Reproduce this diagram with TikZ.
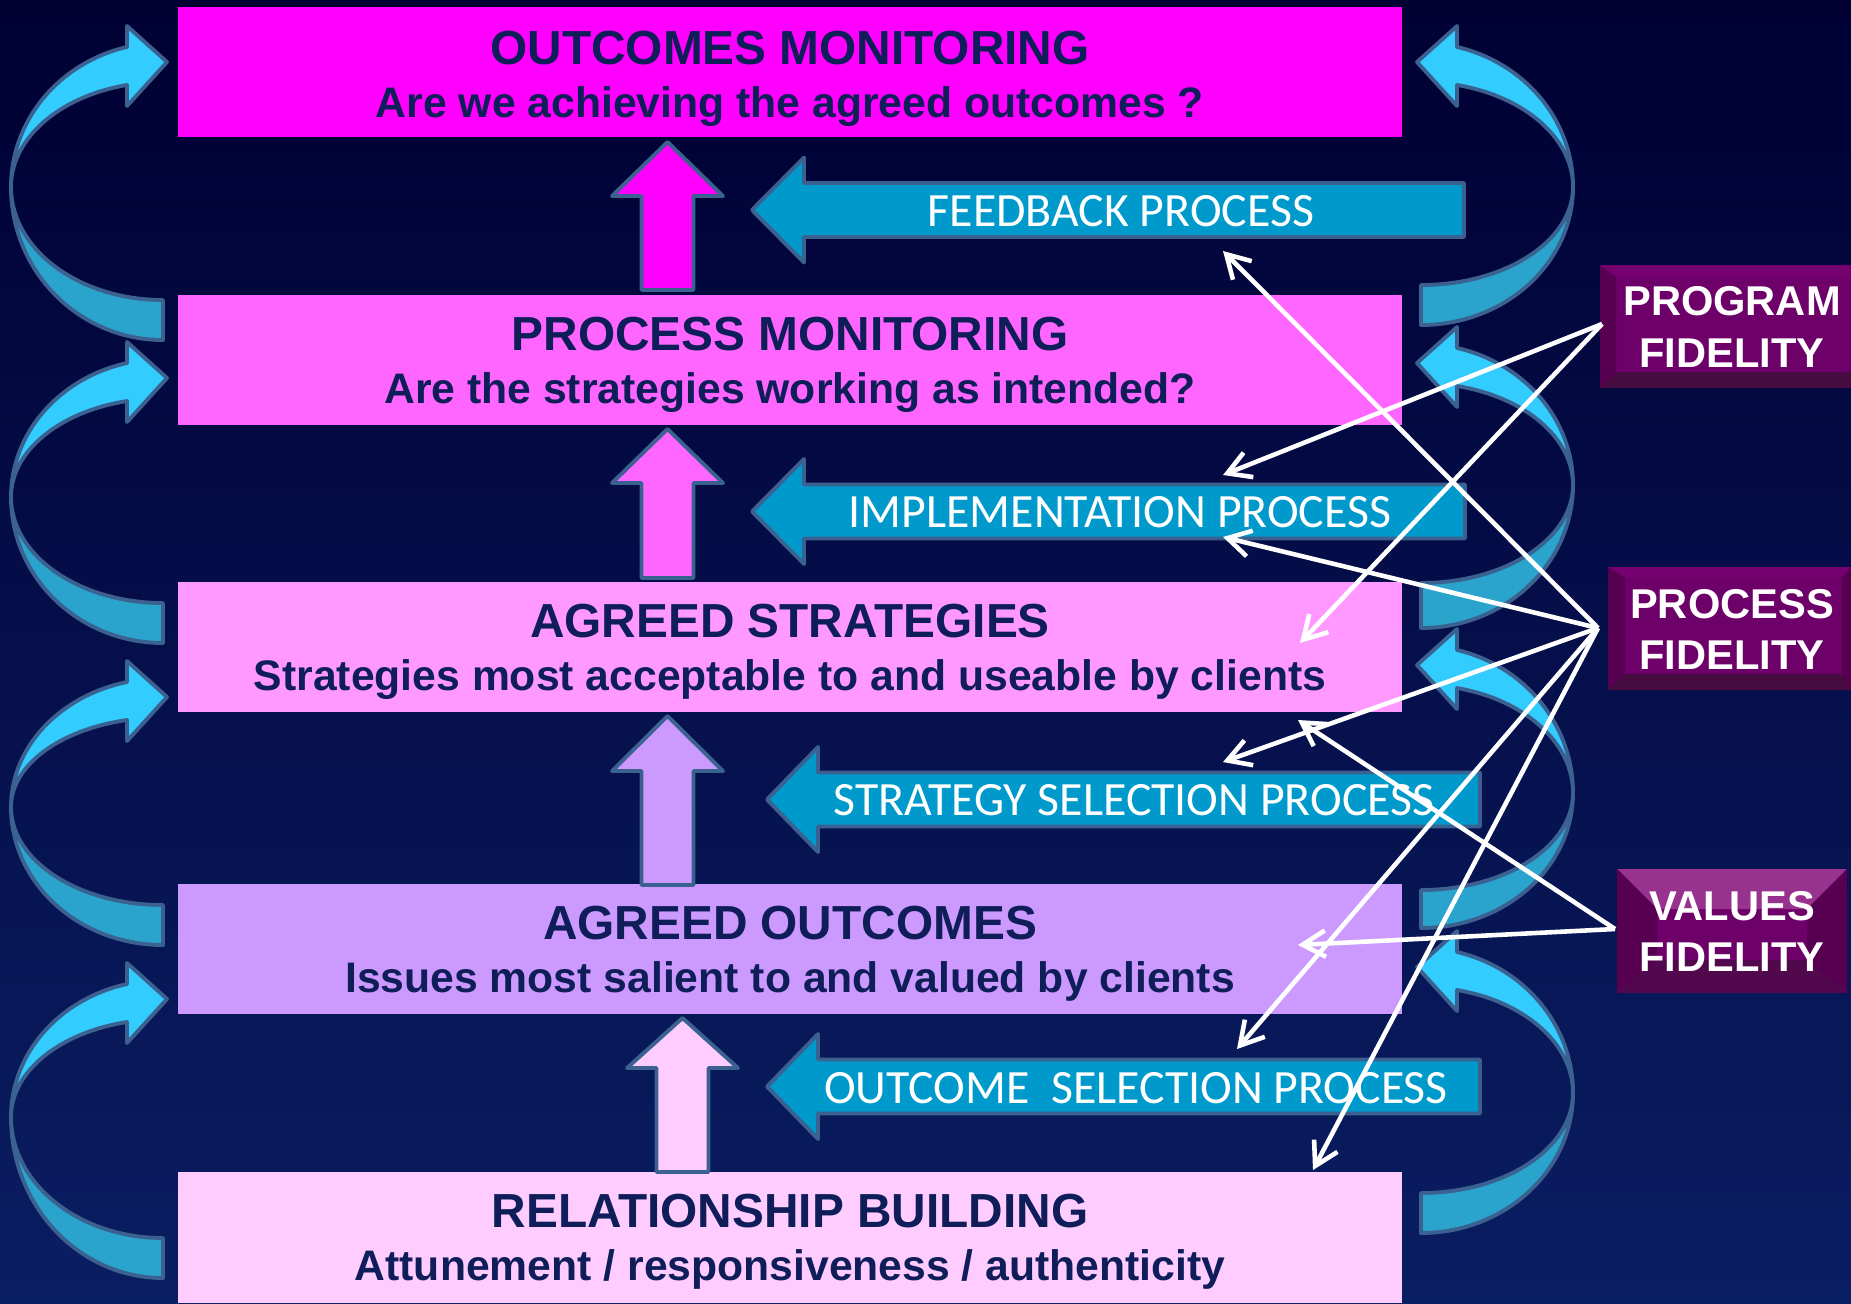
\documentclass[tikz,border=0pt]{standalone}
\usepackage{fontspec}
\setmainfont{Liberation Sans}
\newfontfamily\procfont{Carlito}
\usetikzlibrary{arrows.meta}

\definecolor{bgtop}{HTML}{000033}
\definecolor{bgbot}{HTML}{0A1E62}
\definecolor{boxA}{HTML}{FF00FF}
\definecolor{boxB}{HTML}{FF66FF}
\definecolor{boxC}{HTML}{FF99FF}
\definecolor{boxD}{HTML}{CC99FF}
\definecolor{boxE}{HTML}{FFCCFF}
\definecolor{ink}{HTML}{0F1E58}
\definecolor{edge}{HTML}{3B6190}
\definecolor{cyanlight}{HTML}{33CCFF}
\definecolor{cyandark}{HTML}{2AA4CC}
\definecolor{procblue}{HTML}{0099CC}
\definecolor{fidface}{HTML}{6E006A}
\definecolor{fidtop}{HTML}{750070}
\definecolor{fidleft}{HTML}{570051}
\definecolor{fidbottom}{HTML}{460B40}
\definecolor{valtop}{HTML}{98328F}

\tikzset{
  outlined/.style={draw=edge, line width=2.2pt, line join=round},
  title/.style={font=\bfseries\fontsize{27.2}{30}\selectfont, text=ink, anchor=base, inner sep=0pt},
  subtitle/.style={font=\bfseries\fontsize{24.3}{28}\selectfont, text=ink, anchor=base, inner sep=0pt},
  proclabel/.style={font=\procfont\fontsize{27.2}{30}\selectfont, text=white, anchor=base, inner sep=0pt},
  fidlabel/.style={font=\bfseries\fontsize{23.7}{28}\selectfont, text=white, anchor=base, inner sep=0pt},
  link/.style={draw=white, line width=2.6pt, -{Straight Barb[length=13pt,width=15pt]}},
}

% C-shaped ribbon arrow: #1 head tip y, #2 turning point y, #3 tail top y, #4 tail bottom y
\newcommand\loopshape[4]{%
  \pgfmathsetmacro\ryo{(#2-#1+15)/0.9716}%
  \pgfmathsetmacro\ryi{(#2-#1-23)/0.9716}%
  \pgfmathsetmacro\ryb{#4-#2}%
  \pgfmathsetmacro\rya{#3-#2}%
  \path[outlined, fill=cyandark] (11,#2)
    arc[start angle=180, end angle=90, x radius=152, y radius=\ryb]
    -- (163,#3)
    arc[start angle=90, end angle=180, x radius=152, y radius=\rya] -- cycle;
  \path[outlined, fill=cyanlight] (127,#1-15)
    arc[start angle=256.3, end angle=180, x radius=152, y radius=\ryo]
    arc[start angle=180, end angle=256.3, x radius=152, y radius=\ryi]
    -- (127,#1+44) -- (167,#1) -- (127,#1-36) -- cycle;
}

% upward block arrow: #1 fill, #2 centre x, #3 tip y, #4 head base y, #5 bottom y
\newcommand\upblock[5]{%
  \path[outlined, fill=#1] (#2,#3) -- (#2+55.5,#4) -- (#2+26,#4) -- (#2+26,#5)
    -- (#2-26,#5) -- (#2-26,#4) -- (#2-55.5,#4) -- cycle;
}

% leftward block arrow: #1 tip x, #2 centre y, #3 head base x, #4 right end x
\newcommand\leftblock[4]{%
  \path[outlined, fill=procblue] (#1,#2) -- (#3,#2-52.5) -- (#3,#2-27) -- (#4,#2-27)
    -- (#4,#2+27) -- (#3,#2+27) -- (#3,#2+52.5) -- cycle;
}

\begin{document}
\begin{tikzpicture}[x=0.02cm, y=-0.02cm]
\useasboundingbox (0,0) rectangle (1851,1303);
\shade[top color=bgtop, bottom color=bgbot] (0,0) rectangle (1851,1303);

% level boxes
\fill[boxA] (178,7) rectangle (1402,137);
\fill[boxB] (178,295) rectangle (1402,425);
\fill[boxC] (178,582) rectangle (1402,712);
\fill[boxD] (178,884) rectangle (1402,1014);
\fill[boxE] (178,1172) rectangle (1402,1303);

% upward arrows between levels
\upblock{boxA}{667.5}{142}{196}{290}
\upblock{boxB}{667.5}{429}{483}{578}
\upblock{boxD}{667.5}{716}{771}{885}
\upblock{boxE}{682.5}{1018}{1068}{1172}

% process arrows
\leftblock{752}{210}{804}{1464}
\leftblock{752}{511.5}{804}{1465}
\leftblock{767}{799.5}{818}{1480}
\leftblock{767}{1086.5}{818}{1480}

% looping arrows, left column
\loopshape{62}{187}{300}{340}
\loopshape{378}{497}{603}{643}
\loopshape{697}{807}{905}{945}
\loopshape{999}{1117}{1238}{1278}

% looping arrows, right column (mirrored)
\begin{scope}[shift={(1584,0)}, xscale=-1]
\loopshape{62}{187}{285}{325}
\loopshape{363}{485}{583}{628}
\loopshape{665}{793}{890}{928}
\loopshape{967}{1093}{1193}{1233}
\end{scope}

% level texts
\node[title] (t1) at (790,64) {OUTCOMES MONITORING};
\node[subtitle] (s1) at (790,117) {Are we achieving the agreed outcomes ?};
\node[title] (t2) at (790,350) {PROCESS MONITORING};
\node[subtitle] (s2) at (790,403) {Are the strategies working as intended?};
\node[title] (t3) at (790,637) {AGREED STRATEGIES};
\node[subtitle] (s3) at (790,690) {Strategies most acceptable to and useable by clients};
\node[title] (t4) at (790,939) {AGREED OUTCOMES};
\node[subtitle] (s4) at (790,992) {Issues most salient to and valued by clients};
\node[title] (t5) at (790,1227) {RELATIONSHIP BUILDING};
\node[subtitle] (s5) at (790,1280) {Attunement / responsiveness / authenticity};

% process labels
\node[proclabel] (p1) at (1121,226) {FEEDBACK PROCESS};
\node[proclabel] (p2) at (1120,527) {IMPLEMENTATION PROCESS};
\node[proclabel] (p3) at (1134,815) {STRATEGY SELECTION PROCESS};
\node[proclabel] (p4) at (1136,1103) {OUTCOME\ \ SELECTION PROCESS};

% fidelity boxes with bevelled edges
\fill[fidface] (1600,265) rectangle (1851,388);
\fill[fidtop] (1600,265) -- (1851,265) -- (1851,277) -- (1616,277) -- cycle;
\fill[fidleft] (1600,265) -- (1616,277) -- (1616,372) -- (1600,388) -- cycle;
\fill[fidbottom] (1600,388) -- (1616,372) -- (1851,372) -- (1851,388) -- cycle;

\fill[fidface] (1608,567) rectangle (1851,690);
\fill[fidtop] (1608,567) -- (1851,567) -- (1842,578) -- (1625,578) -- cycle;
\fill[fidleft] (1608,567) -- (1625,578) -- (1625,674) -- (1608,690) -- cycle;
\fill[fidleft] (1851,567) -- (1842,578) -- (1842,674) -- (1851,690) -- cycle;
\fill[fidbottom] (1608,690) -- (1625,674) -- (1842,674) -- (1851,690) -- cycle;

\fill[fidface] (1617,869) rectangle (1847,993);
\fill[valtop] (1617,869) -- (1847,869) -- (1807,909) -- (1657,909) -- cycle;
\fill[fidleft] (1617,869) -- (1657,909) -- (1657,960) -- (1617,993) -- cycle;
\fill[fidleft] (1847,869) -- (1807,909) -- (1807,960) -- (1847,993) -- cycle;
\fill[fidbottom!70!fidface] (1617,993) -- (1657,960) -- (1807,960) -- (1847,993) -- cycle;

\node[fidlabel] (f1a) at (1732,315) {PROGRAM};
\node[fidlabel] (f1b) at (1732,367) {FIDELITY};
\node[fidlabel] (f2a) at (1732,618) {PROCESS};
\node[fidlabel] (f2b) at (1732,669) {FIDELITY};
\node[fidlabel] (f3a) at (1732,920) {VALUES};
\node[fidlabel] (f3b) at (1732,971) {FIDELITY};

% connector ends
\coordinate (program) at (1602,324);
\coordinate (process) at (1598,628);
\coordinate (values) at (1615,929);
\coordinate (feedbackIn) at (1223,251);
\coordinate (implTop) at (1223,475);
\coordinate (implBottom) at (1223,537);
\coordinate (strategiesIn) at (1300,643);
\coordinate (strategiesBottom) at (1298,720);
\coordinate (stratSelTop) at (1223,762);
\coordinate (outcomesIn) at (1298,945);
\coordinate (outSelTop) at (1237,1049);
\coordinate (relationTop) at (1313,1170);

% fidelity links
\draw[link] (program) -- (implTop);
\draw[link] (program) -- (strategiesIn);
\draw[link] (process) -- (feedbackIn);
\draw[link] (process) -- (implBottom);
\draw[link] (process) -- (stratSelTop);
\draw[link] (process) -- (outSelTop);
\draw[link] (process) -- (relationTop);
\draw[link] (values) -- (strategiesBottom);
\draw[link] (values) -- (outcomesIn);
\end{tikzpicture}
\end{document}
